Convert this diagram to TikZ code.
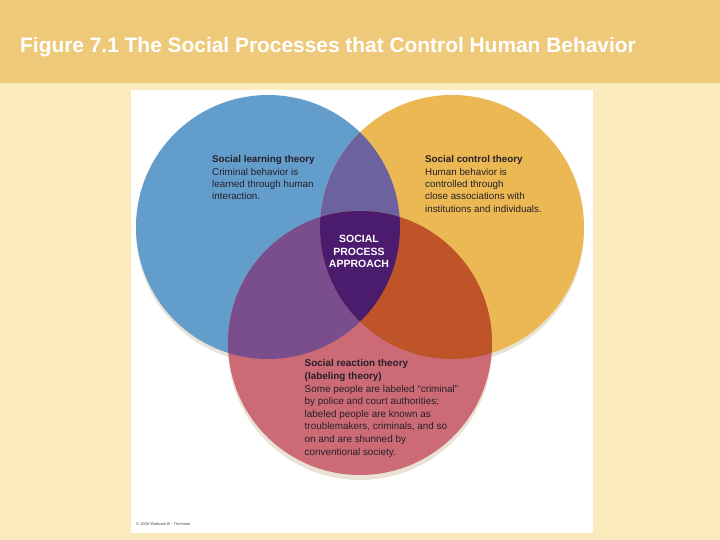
\documentclass[tikz,border=0pt]{standalone}
\usepackage{fontspec}
\setmainfont{Liberation Sans}
\definecolor{bgtan}{RGB}{239,201,122}
\definecolor{bgcream}{RGB}{250,234,188}
\definecolor{cblue}{RGB}{98,157,204}
\definecolor{corange}{RGB}{236,184,84}
\definecolor{cred}{RGB}{204,107,118}
\definecolor{cbo}{RGB}{108,98,160}
\definecolor{cbr}{RGB}{122,78,140}
\definecolor{cor}{RGB}{190,84,40}
\definecolor{cmid}{RGB}{75,28,110}
\definecolor{txt}{RGB}{38,32,40}
\definecolor{shadowc}{RGB}{200,185,150}
\tikzset{
  bodytext/.style={anchor=base west, inner sep=0pt, align=left, text=txt,
    font=\fontsize{9.8}{12.4}\selectfont},
  redtext/.style={bodytext, font=\fontsize{9.9}{12.6}\selectfont},
  midtext/.style={anchor=base, inner sep=0pt, align=center, text=white,
    font=\bfseries\fontsize{10.5}{12.2}\selectfont},
  shadow/.style={fill=shadowc, opacity=0.4},
}
\begin{document}
\begin{tikzpicture}[x=1pt,y=-1pt]
\useasboundingbox (0,0) rectangle (720,540);
\fill[bgcream] (0,0) rectangle (720,540);
\fill[bgtan] (0,0) rectangle (720,83);
\node[anchor=base west, inner sep=0pt, text=white, font=\bfseries\fontsize{20.9}{22}\selectfont] (title) at (20,53) {Figure 7.1 The Social Processes that Control Human Behavior};
\fill[white] (131,90) rectangle (593,533);
\coordinate (B) at (268,227);
\coordinate (O) at (452,227);
\coordinate (R) at (360,343);
\fill[shadow] ([yshift=-4pt]B) circle (132pt);
\fill[shadow] ([yshift=-4pt]O) circle (132pt);
\fill[shadow] ([yshift=-5pt]R) circle (132pt);
\fill[cblue] (B) circle (132pt);
\fill[corange] (O) circle (132pt);
\fill[cred] (R) circle (132pt);
\begin{scope}
  \clip (B) circle (132pt);
  \fill[cbo] (O) circle (132pt);
  \fill[cbr] (R) circle (132pt);
\end{scope}
\begin{scope}
  \clip (O) circle (132pt);
  \fill[cor] (R) circle (132pt);
\end{scope}
\begin{scope}
  \clip (B) circle (132pt);
  \clip (O) circle (132pt);
  \fill[cmid] (R) circle (132pt);
\end{scope}
\node[bodytext] (learn) at (212,200) {\textbf{Social learning theory}\\Criminal behavior is\\learned through human\\interaction.};
\node[bodytext] (control) at (425,212.4) {\textbf{Social control theory}\\Human behavior is\\controlled through\\close associations with\\institutions and individuals.};
\node[midtext] (mid) at (359,267.4) {SOCIAL\\PROCESS\\APPROACH};
\node[redtext] (react) at (304.5,455) {\textbf{Social reaction theory}\\\textbf{(labeling theory)}\\Some people are labeled “criminal”\\by police and court authorities;\\labeled people are known as\\troublemakers, criminals, and so\\on and are shunned by\\conventional society.};
\node[anchor=base west, inner sep=0pt, text=black!70, font=\fontsize{4}{5}\selectfont] (copy) at (136,525) {© 2006 Wadsworth - Thomson};
\end{tikzpicture}
\end{document}
